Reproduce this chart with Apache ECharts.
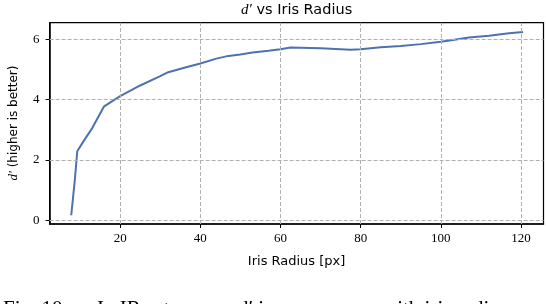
<!DOCTYPE html>
<html>
<head>
<meta charset="utf-8">
<script src="https://cdn.jsdelivr.net/npm/echarts@6/dist/echarts.min.js"></script>
<style>
html,body{margin:0;padding:0;background:#fff;}
#chart{width:546px;height:304px;}
</style>
</head>
<body>
<div id="chart"></div>
<script>
// Data
const irisRadius = [7.8, 8.7, 9.3, 11, 13, 16, 20, 25, 30, 32, 36, 40, 44, 47, 50, 53, 57, 60, 62.5, 70, 77.5, 80, 85, 90, 95, 100, 103, 107, 112, 117, 120.5];
const dPrime = [0.17, 1.35, 2.29, 2.65, 3.05, 3.78, 4.12, 4.47, 4.78, 4.91, 5.06, 5.2, 5.36, 5.45, 5.5, 5.56, 5.62, 5.67, 5.73, 5.7, 5.65, 5.67, 5.74, 5.78, 5.84, 5.92, 5.98, 6.06, 6.12, 6.2, 6.24];
const xTicks = [20, 40, 60, 80, 100, 120];
const yTicks = [0, 2, 4, 6];
const titleText = ' vs Iris Radius';
const xLabel = 'Iris Radius [px]';
const yLabel = ' (higher is better)';
const caption = ['Fig. 10:', 'In IR setup,', 'd\u2032 increases', 'with iris radius'];

const chart = echarts.init(document.getElementById('chart'), null, {renderer: 'canvas'});
const serif = '"Liberation Serif", "DejaVu Serif", serif';
const sans = '"DejaVu Sans", sans-serif';
const gridColor = '#b0b0b0';

const option = {
  backgroundColor: '#ffffff',
  animation: false,
  grid: {left: 49.6, right: 2.5, top: 22.7, bottom: 80, show: true, borderColor: '#000', borderWidth: 1.2, backgroundColor: 'transparent'},
  xAxis: {
    type: 'value', min: 2.4, max: 125.6,
    axisLine: {show: true, onZero: false, lineStyle: {color: '#000', width: 1.5}},
    axisTick: {show: true, inside: false, length: 4, customValues: xTicks, lineStyle: {color: '#000'}},
    axisLabel: {customValues: xTicks, margin: 8, color: '#000', fontFamily: serif, fontSize: 13},
    splitLine: {show: false}
  },
  yAxis: {
    type: 'value', min: -0.12, max: 6.55,
    axisLine: {show: true, onZero: false, lineStyle: {color: '#000', width: 1.5}},
    axisTick: {show: true, inside: false, length: 4, customValues: yTicks, lineStyle: {color: '#000'}},
    axisLabel: {customValues: yTicks, margin: 10, color: '#000', fontFamily: serif, fontSize: 13},
    splitLine: {show: false}
  },
  series: [
    {
      type: 'line', silent: true, symbol: 'none', z: 1,
      data: [],
      markLine: {
        silent: true, symbol: 'none', animation: false,
        label: {show: false},
        lineStyle: {color: gridColor, type: [4, 2], width: 1},
        data: xTicks.map(v => ({xAxis: v})).concat(yTicks.map(v => ({yAxis: v})))
      }
    },
    {
      type: 'line', symbol: 'none', z: 3,
      data: irisRadius.map((x, i) => [x, dPrime[i]]),
      lineStyle: {color: '#4c72b0', width: 2},
      itemStyle: {color: '#4c72b0'}
    }
  ],
  graphic: [
    {
      type: 'text', x: 296.6, y: 10,
      style: {
        text: '{d|d\u2032}{t|' + titleText + '}',
        align: 'center', verticalAlign: 'middle',
        rich: {
          d: {fontFamily: serif, fontStyle: 'italic', fontSize: 15, fill: '#000'},
          t: {fontFamily: sans, fontSize: 14.5, fill: '#000'}
        }
      }
    },
    {
      type: 'text', x: 296.6, y: 262,
      style: {text: xLabel, align: 'center', verticalAlign: 'middle', fontFamily: sans, fontSize: 13, fill: '#000'}
    },
    {
      type: 'text', x: 14, y: 123, rotation: Math.PI / 2,
      style: {
        text: '{d|d\u2032}{t|' + yLabel + '}',
        align: 'center', verticalAlign: 'middle',
        rich: {
          d: {fontFamily: serif, fontStyle: 'italic', fontSize: 13, fill: '#000'},
          t: {fontFamily: sans, fontSize: 12, fill: '#000'}
        }
      }
    },
    {type: 'text', x: 3, y: 299, style: {text: caption[0], fontFamily: serif, fontSize: 21, fill: '#000', verticalAlign: 'top'}},
    {type: 'text', x: 97, y: 299, style: {text: caption[1], fontFamily: serif, fontSize: 21, fill: '#000', verticalAlign: 'top'}},
    {type: 'text', x: 238, y: 299, style: {text: caption[2], fontFamily: serif, fontSize: 21, fill: '#000', verticalAlign: 'top'}},
    {type: 'text', x: 382, y: 299, style: {text: caption[3], fontFamily: serif, fontSize: 21, fill: '#000', verticalAlign: 'top'}}
  ]
};
chart.setOption(option);
</script>
</body>
</html>
